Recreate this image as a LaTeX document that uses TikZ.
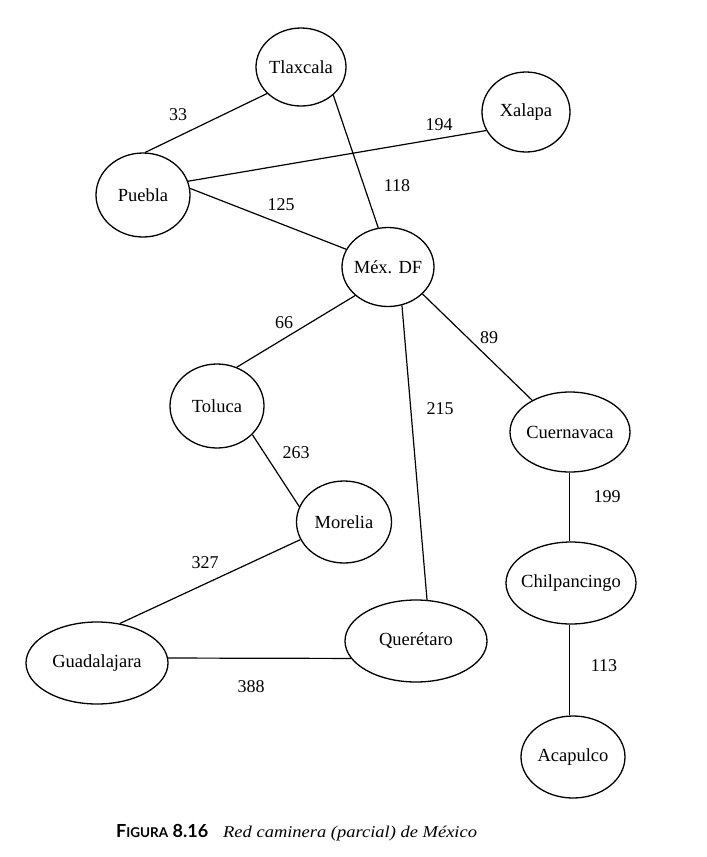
\documentclass[tikz,border=0pt]{standalone}
\usepackage{fontspec}
\usepackage{graphicx}
\setmainfont{Liberation Serif}
\newfontfamily\capsans{Lato}
\usetikzlibrary{shapes.geometric}
% zero-width box so the ellipse keeps the size given by its minimum width/height
\newcommand{\cityname}[1]{\makebox[0pt][c]{#1}}
\begin{document}
\begin{tikzpicture}[x=1pt,y=-1pt,
  city/.style={draw, ellipse, line width=1.3pt, inner sep=0pt,
    font=\rmfamily\fontsize{18.5}{22}\selectfont},
  road/.style={line width=1.2pt},
  dist/.style={inner sep=0pt, font=\rmfamily\fontsize{18}{21}\selectfont}]
\useasboundingbox (0,0) rectangle (707,857);

% cities
\node[city, minimum width=90, minimum height=78]  (tlax) at (301,67)  {\cityname{Tlaxcala}};
\node[city, minimum width=94, minimum height=84]  (pueb) at (143,195) {\cityname{Puebla}};
\node[city, minimum width=88, minimum height=80]  (xal)  at (526,112) {\cityname{Xalapa}};
\node[city, minimum width=92, minimum height=79]  (df)   at (388,267) {\cityname{Méx. DF}};
\node[city, minimum width=94, minimum height=84]  (tol)  at (217,406) {\cityname{Toluca}};
\node[city, minimum width=120, minimum height=80] (cuer) at (570,432) {\cityname{Cuernavaca}};
\node[city, minimum width=130, minimum height=82] (chil) at (571,583) {\cityname{Chilpancingo}};
\node[city, minimum width=95, minimum height=82]  (mor)  at (344,522) {\cityname{Morelia}};
\node[city, minimum width=142, minimum height=82] (quer) at (416,641) {\cityname{Querétaro}};
\node[city, minimum width=142, minimum height=82] (gdl)  at (97,663)  {\cityname{Guadalajara}};
\node[city, minimum width=104, minimum height=82] (aca)  at (573,757) {\cityname{Acapulco}};

% roads
\draw[road] (tlax.-142) -- (pueb.87);
\draw[road] (tlax.-41) -- (df.104);
\draw[road] (pueb.17) -- (xal.-155);
\draw[road] (pueb.8) -- (df.157);
\draw[road] (df.-139) -- (tol.63);
\draw[road] (df.-70) -- (quer.75);
\draw[road] (df.-38) -- (cuer.140);
\draw[road] (tol.-39) -- (mor.161);
\draw[road] (mor.-158) -- (gdl.60);
\draw[road] (gdl.4) -- (quer.-165);
\draw[road] (cuer.-91) -- (cuer.-91 |- chil.north);
\draw[road] (chil.-92) -- (chil.-92 |- aca.north);

% distances
\node[dist] (d33)  at (178,115) {33};
\node[dist] (d118) at (397,186) {118};
\node[dist] (d194) at (439,125) {194};
\node[dist] (d125) at (281,205) {125};
\node[dist] (d66)  at (284,323) {66};
\node[dist] (d215) at (440,409) {215};
\node[dist] (d89)  at (489,338) {89};
\node[dist] (d263) at (296,453) {263};
\node[dist] (d327) at (205,563) {327};
\node[dist] (d388) at (251,687) {388};
\node[dist] (d199) at (607,497) {199};
\node[dist] (d113) at (604,666) {113};

% caption
\node[anchor=base west, inner sep=0pt] (fignum) at (116,837)
  {\capsans\bfseries\fontsize{18}{20}\selectfont F\fontsize{13.5}{16}\selectfont IGURA\fontsize{18}{20}\selectfont\ 8.16};
\node[anchor=base west, inner sep=0pt] (figtxt) at (223,837)
  {\scalebox{1.12}[1]{\rmfamily\itshape\fontsize{16.5}{20}\selectfont Red caminera (parcial) de México}};
\end{tikzpicture}
\end{document}
